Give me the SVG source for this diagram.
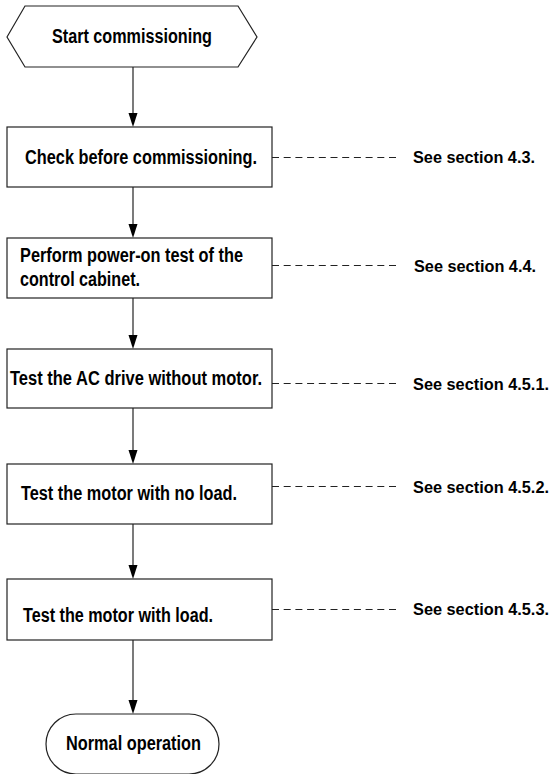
<svg xmlns="http://www.w3.org/2000/svg" width="552" height="774" viewBox="0 0 552 774">
<style>
.shape{fill:#fff;stroke:#222;stroke-width:1.2}
.t{font-family:"Liberation Sans Narrow","Liberation Sans",Arial,sans-serif;font-weight:bold;font-size:20px;fill:#000}
.r{font-size:16.5px}
.flow{stroke:#222;stroke-width:1.2;fill:none}
.dash{stroke:#222;stroke-width:1;stroke-dasharray:7 4.7;fill:none}
.head{fill:#000}
</style>
<rect width="552" height="774" fill="#fff"/>
<g id="connectors">
<line class="flow" x1="133" y1="67" x2="133" y2="114"/>
<path class="head" d="M128.5,113 L137.5,113 L133,127 Z"/>
<line class="flow" x1="133" y1="187" x2="133" y2="225"/>
<path class="head" d="M128.5,224 L137.5,224 L133,238 Z"/>
<line class="flow" x1="133" y1="298" x2="133" y2="336"/>
<path class="head" d="M128.5,335 L137.5,335 L133,349 Z"/>
<line class="flow" x1="133" y1="408" x2="133" y2="451"/>
<path class="head" d="M128.5,450 L137.5,450 L133,464 Z"/>
<line class="flow" x1="133" y1="524" x2="133" y2="566"/>
<path class="head" d="M128.5,565 L137.5,565 L133,579 Z"/>
<line class="flow" x1="133" y1="640" x2="133" y2="701"/>
<path class="head" d="M128.5,700 L137.5,700 L133,714 Z"/>
<line class="dash" x1="272" y1="157.5" x2="398" y2="157.5"/>
<line class="dash" x1="272" y1="265.5" x2="398" y2="265.5"/>
<line class="dash" x1="272" y1="383.5" x2="398" y2="383.5"/>
<line class="dash" x1="272" y1="486.5" x2="398" y2="486.5"/>
<line class="dash" x1="272" y1="609.5" x2="398" y2="609.5"/>
</g>
<g id="start">
<polygon class="shape" points="7,37 25,6 238,6 257,37 238,67 25,67"/>
<text class="t" x="52" y="43" textLength="160" lengthAdjust="spacingAndGlyphs">Start commissioning</text>
</g>
<g id="check">
<rect class="shape" x="7" y="127" width="265" height="60"/>
<text class="t" x="25" y="164" textLength="232" lengthAdjust="spacingAndGlyphs">Check before commissioning.</text>
</g>
<g id="poweron">
<rect class="shape" x="7" y="238" width="265" height="60"/>
<text class="t" x="20" y="262" textLength="223" lengthAdjust="spacingAndGlyphs">Perform power-on test of the</text>
<text class="t" x="20" y="286" textLength="120" lengthAdjust="spacingAndGlyphs">control cabinet.</text>
</g>
<g id="drive">
<rect class="shape" x="7" y="349" width="265" height="59"/>
<text class="t" x="10" y="385" textLength="252" lengthAdjust="spacingAndGlyphs">Test the AC drive without motor.</text>
</g>
<g id="noload">
<rect class="shape" x="7" y="464" width="265" height="60"/>
<text class="t" x="21" y="500" textLength="216" lengthAdjust="spacingAndGlyphs">Test the motor with no load.</text>
</g>
<g id="withload">
<rect class="shape" x="7" y="579" width="265" height="61"/>
<text class="t" x="23" y="622" textLength="190" lengthAdjust="spacingAndGlyphs">Test the motor with load.</text>
</g>
<g id="normal">
<rect class="shape" x="46" y="714" width="173" height="60" rx="30" ry="30"/>
<text class="t" x="66" y="750" textLength="135" lengthAdjust="spacingAndGlyphs">Normal operation</text>
</g>
<g id="refs">
<text class="t r" x="413" y="163" textLength="122" lengthAdjust="spacingAndGlyphs">See section 4.3.</text>
<text class="t r" x="414" y="272" textLength="122" lengthAdjust="spacingAndGlyphs">See section 4.4.</text>
<text class="t r" x="413" y="390" textLength="136" lengthAdjust="spacingAndGlyphs">See section 4.5.1.</text>
<text class="t r" x="413" y="493" textLength="136" lengthAdjust="spacingAndGlyphs">See section 4.5.2.</text>
<text class="t r" x="413" y="615" textLength="136" lengthAdjust="spacingAndGlyphs">See section 4.5.3.</text>
</g>
</svg>
